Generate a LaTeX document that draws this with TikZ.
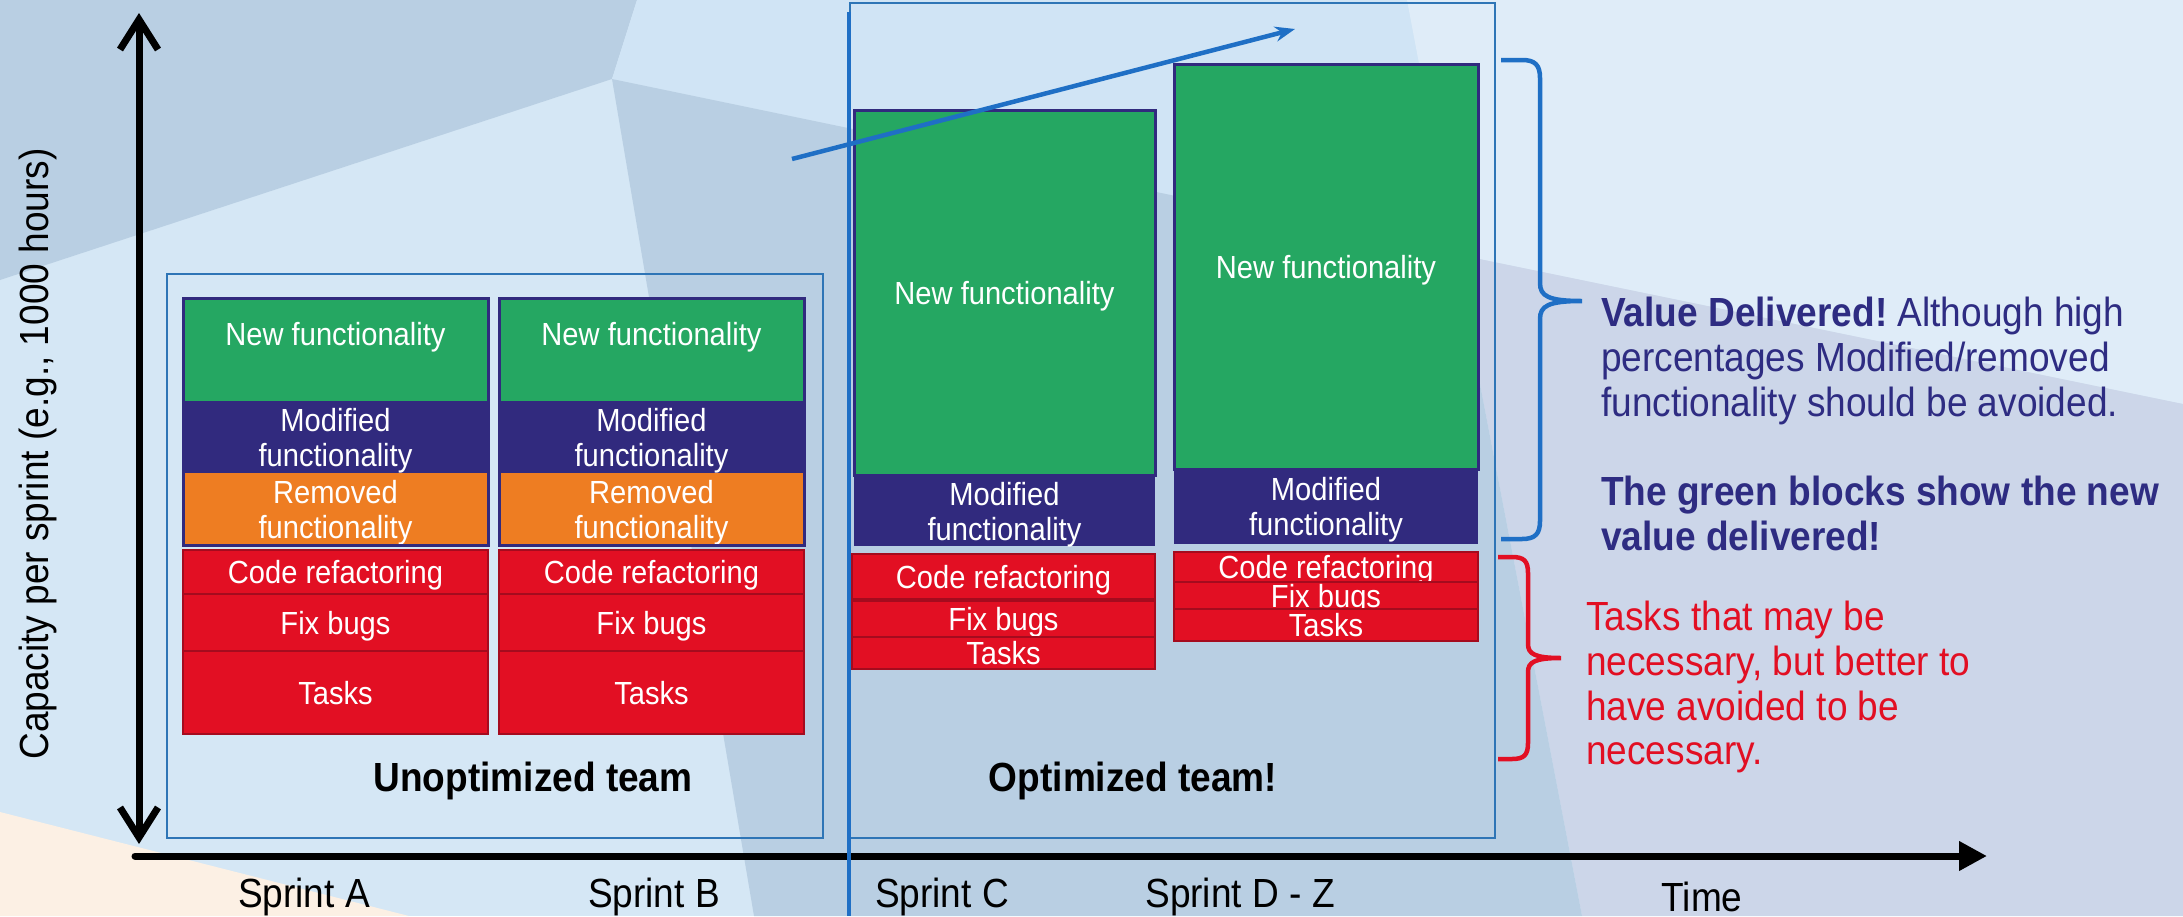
\documentclass[tikz,border=0pt]{standalone}
\usepackage{fontspec}
\setmainfont{Liberation Sans}[FakeStretch=0.91]
\usetikzlibrary{arrows.meta}

\definecolor{bgbase}{HTML}{D5E7F5}
\definecolor{bgdark}{HTML}{B9CFE3}
\definecolor{bgmid}{HTML}{D0E4F5}
\definecolor{bgpale}{HTML}{DFECF8}
\definecolor{bglav}{HTML}{CCD6E9}
\definecolor{bgpeach}{HTML}{FCF0E4}
\definecolor{newgreen}{HTML}{25A762}
\definecolor{modnavy}{HTML}{312A7E}
\definecolor{remorange}{HTML}{EE7D22}
\definecolor{taskred}{HTML}{E20F23}
\definecolor{taskedge}{HTML}{A50B1E}
\definecolor{teamblue}{HTML}{2E75B6}
\definecolor{trendblue}{HTML}{1F6FC5}
\definecolor{notenavy}{HTML}{2E2C82}

\tikzset{
	blk/.style={rectangle, anchor=north west, inner sep=0pt, outer sep=0pt, text=white, align=center, text depth=0pt, font=\fontsize{32}{35}\selectfont},
	greenblk/.style={blk, fill=newgreen},
	modblk/.style={blk, fill=modnavy},
	remblk/.style={blk, fill=remorange},
	redblk/.style={blk, fill=taskred, draw=taskedge, line width=2.5pt},
	team/.style={rectangle, anchor=north west, inner sep=0pt, draw=teamblue, line width=2pt},
	teamlabel/.style={inner sep=0pt, font=\bfseries\fontsize{40.7}{44}\selectfont},
	axislabel/.style={inner sep=0pt, font=\fontsize{40.7}{44}\selectfont},
	note/.style={anchor=north west, inner sep=0pt, align=left, font=\fontsize{40.7}{44.75}\selectfont\frenchspacing},
}

\begin{document}
\begin{tikzpicture}[x=1pt,y=-1pt]
	\useasboundingbox (0,0) rectangle (2183,916);
	\fill[bgbase] (0,0) rectangle (2183,916); %背景
	\fill[bgdark] (0,0) -- (637,0) -- (612,79) -- (0,280) -- cycle;
	\fill[bgmid] (637,0) -- (1407,0) -- (1455,254) -- (612,79) -- cycle;
	\fill[bgpale] (1407,0) -- (2183,0) -- (2183,404) -- (1455,254) -- cycle;
	\fill[bglav] (1455,254) -- (2183,404) -- (2183,916) -- (1582,916) -- cycle;
	\fill[bgdark] (612,79) -- (1455,254) -- (1582,916) -- (754,916) -- cycle;
	\fill[bgpeach] (0,812) -- (409,916) -- (0,916) -- cycle;

	\node[team, minimum width=656pt, minimum height=564pt] (unopt) at (166,273) {}; %teams
	\node[team, minimum width=645pt, minimum height=835pt] (opt) at (849,2) {};

	\foreach \x/\s in {183/a,499/b}{ %sprint A, B
		\node[greenblk, minimum width=305pt, minimum height=103pt, text height=23pt, text depth=31pt] (new\s) at (\x,298) {New functionality};
		\node[modblk, minimum width=305pt, minimum height=72pt] (mod\s) at (new\s.south west) {Modified\\functionality};
		\node[remblk, minimum width=305pt, minimum height=72pt] (rem\s) at (mod\s.south west) {Removed\\functionality};
		\draw[modnavy, line width=3pt] (new\s.north west) rectangle (rem\s.south east);
		\node[redblk, minimum width=305pt, minimum height=44pt] (cr\s) at ([yshift=-5pt]rem\s.south west) {Code refactoring};
		\node[redblk, minimum width=305pt, minimum height=57pt] (fb\s) at (cr\s.south west) {Fix bugs};
		\node[redblk, minimum width=305pt, minimum height=83pt] (tk\s) at (fb\s.south west) {Tasks};
	}

	\node[greenblk, draw=modnavy, line width=3pt, minimum width=301pt, minimum height=365pt] (newc) at (854,110) {New functionality}; %sprint C
	\node[modblk, minimum width=301pt, minimum height=69pt] (modc) at ([yshift=-2pt]newc.south west) {Modified\\functionality};
	\node[redblk, minimum width=303pt, minimum height=45pt] (crc) at ([xshift=-2pt,yshift=-8pt]modc.south west) {Code refactoring};
	\node[redblk, minimum width=303pt, minimum height=36pt] (fbc) at ([yshift=-2pt]crc.south west) {Fix bugs};
	\node[redblk, minimum width=303pt, minimum height=32pt] (tkc) at (fbc.south west) {Tasks};

	\node[greenblk, draw=modnavy, line width=3pt, minimum width=304pt, minimum height=405pt] (newd) at (1174,64) {New functionality}; %sprint D - Z
	\node[modblk, minimum width=304pt, minimum height=75pt] (modd) at (newd.south west) {Modified\\functionality};
	\node[redblk, minimum width=304pt, minimum height=30pt] (crd) at ([yshift=-8pt]modd.south west) {Code refactoring};
	\node[redblk, minimum width=304pt, minimum height=27pt] (fbd) at (crd.south west) {Fix bugs};
	\node[redblk, minimum width=304pt, minimum height=32pt] (tkd) at (fbd.south west) {Tasks};

	\node[teamlabel] (unoptlabel) at (533,781) {Unoptimized team};
	\node[teamlabel] (optlabel) at (1133,781) {Optimized team!};

	\coordinate (trendfrom) at (792,159);
	\coordinate (trendto) at (1295,29);
	\draw[trendblue, line width=4.5pt, -{Stealth[length=20pt,width=15pt]}] (trendfrom) -- (trendto); %trend

	\coordinate (ybot) at (139,844);
	\coordinate (ytop) at (139,13);
	\coordinate (xleft) at (135,856);
	\coordinate (xright) at (1987,856);
	\draw[line width=7pt, {Straight Barb[length=30pt,width=38pt]}-{Straight Barb[length=30pt,width=38pt]}] (ybot) -- (ytop); %y軸
	\draw[line width=7pt, line cap=round, -{Triangle[length=28pt,width=28pt]}] (xleft) -- (xright); %x軸

	\coordinate (cuttop) at (849,12);
	\coordinate (cutbot) at (849,916);
	\draw[trendblue, line width=4.5pt] (cuttop) -- (cutbot);

	\draw[trendblue, line width=4.5pt] (1501,60) -- (1522,60) .. controls (1535,60) and (1540,65) .. (1540,78) -- (1540,283) .. controls (1540,296) and (1548,301) .. (1582,301) .. controls (1548,301) and (1540,306) .. (1540,319) -- (1540,521) .. controls (1540,534) and (1535,539) .. (1522,539) -- (1501,539); %brace
	\draw[taskred, line width=4.5pt] (1498,557) -- (1512,557) .. controls (1524,557) and (1528,561) .. (1528,573) -- (1528,644) .. controls (1528,654) and (1535,658) .. (1561,658) .. controls (1535,658) and (1528,662) .. (1528,672) -- (1528,743) .. controls (1528,755) and (1524,759) .. (1512,759) -- (1498,759);

	\node[note, text=notenavy] (valuenote) at (1601,297) {{\bfseries Value Delivered!} Although high\\percentages Modified/removed\\functionality should be avoided.\\[44.75pt]{\bfseries The green blocks show the new}\\{\bfseries value delivered!}};
	\node[note, text=taskred] (tasknote) at (1586,601) {Tasks that may be\\necessary, but better to\\have avoided to be\\necessary.};

	\node[axislabel] (sprinta) at (304,897) {Sprint A};
	\node[axislabel] (sprintb) at (654,897) {Sprint B};
	\node[axislabel] (sprintc) at (942,897) {Sprint C};
	\node[axislabel] (sprintd) at (1240,897) {Sprint D - Z};
	\node[axislabel] (timelabel) at (1702,897) {Time};
	\node[axislabel, rotate=90] (caplabel) at (38,454) {Capacity per sprint (e.g., 1000 hours)};
\end{tikzpicture}
\end{document}
